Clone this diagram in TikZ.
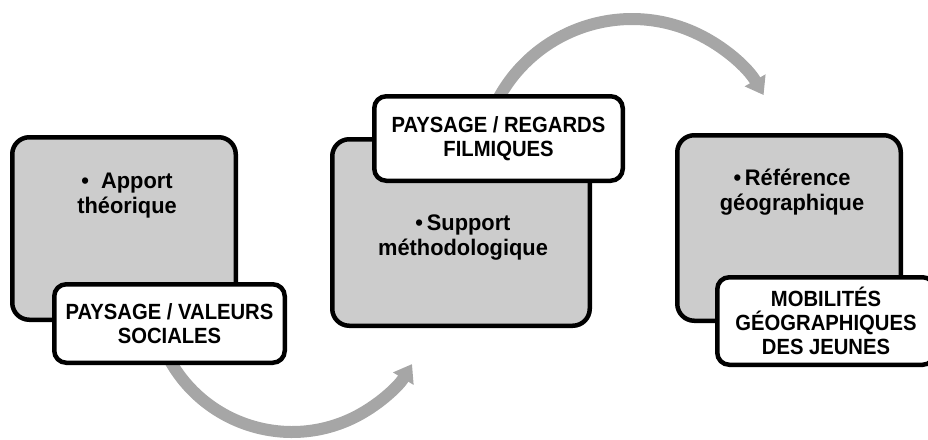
\documentclass[tikz,border=0pt]{standalone}
\usepackage{fontspec}
\setmainfont{Liberation Sans}
\newfontfamily\labelfont[FakeStretch=0.92]{Liberation Sans}
\newfontfamily\blockfont[FakeStretch=0.97]{Liberation Sans}
\usetikzlibrary{positioning,arrows.meta}

\definecolor{boxgray}{RGB}{204,204,204}
\definecolor{arcgray}{RGB}{166,166,166}

\tikzset{
  graybox/.style={draw=black, line width=4.5pt, rounded corners=17pt, fill=boxgray, inner sep=0pt},
  whitebox/.style={draw=black, line width=4.5pt, rounded corners=12pt, fill=white, inner sep=0pt,
    align=center, font=\labelfont\fontsize{22}{24}\selectfont\bfseries},
  graytext/.style={inner sep=0pt, align=center, font=\blockfont\fontsize{22.5}{24.5}\selectfont\bfseries},
  bigarrow/.style={draw=arcgray, line width=12pt, -{Triangle[length=17pt, width=23pt]}}
}

\begin{document}
\begin{tikzpicture}[x=1pt, y=-1pt]
\useasboundingbox (0,0) rectangle (928,439);
\clip (0,0) rectangle (928,439);

% curved arrows, drawn first so the label boxes hide their tails
\coordinate (lowstart) at (168.4,357.7);
\coordinate (highstart) at (494.2,106.8);
\draw[bigarrow] (lowstart) arc[start angle=152, end angle=31, radius=140];
\draw[bigarrow] (highstart) arc[start angle=-155, end angle=-30, radius=152];

% grey blocks
\node[graybox, minimum width=223.5pt, minimum height=182.5pt] (apport) at (124,228.5) {};
\node[graybox, minimum width=257.5pt, minimum height=186.5pt] (support) at (461,232.5) {};
\node[graybox, minimum width=223.5pt, minimum height=185.5pt] (reference) at (789,228) {};

\node[graytext, anchor=north, below=38pt of apport.north, xshift=3pt] (apporttxt)
  {\textbullet\ \ Apport\\th\'eorique};
\node[graytext, anchor=north, below=78pt of support.north, xshift=2pt] (supporttxt)
  {\textbullet\,Support\\m\'ethodologique};
\node[graytext, anchor=north, below=36pt of reference.north, xshift=3pt] (referencetxt)
  {\textbullet\,R\'ef\'erence\\g\'eographique};

% white label boxes
\node[whitebox, minimum width=230.5pt, minimum height=78.5pt] (valeurs) at (169.5,323.5)
  {PAYSAGE / VALEURS\\SOCIALES};
\node[whitebox, minimum width=248.5pt, minimum height=84.5pt] (regards) at (498.5,138.5)
  {PAYSAGE / REGARDS\\FILMIQUES};
\node[whitebox, minimum width=217.5pt, minimum height=87.5pt] (mobilites) at (826,321)
  {MOBILIT\'ES\\G\'EOGRAPHIQUES\\DES JEUNES};

\end{tikzpicture}
\end{document}
